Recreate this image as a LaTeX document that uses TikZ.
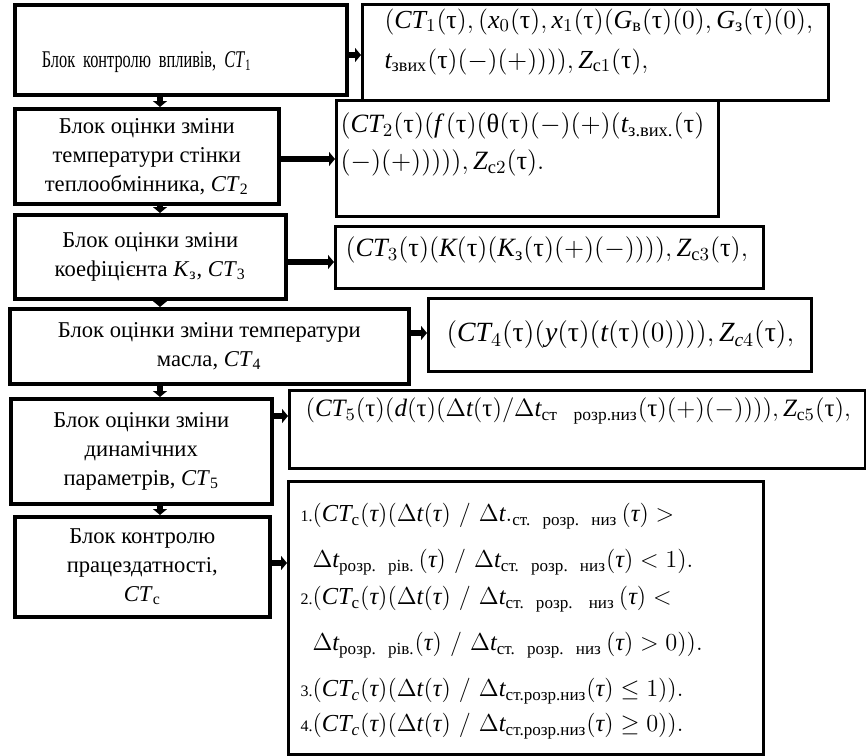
\RequirePackage{fix-cm}
\documentclass[tikz,border=0pt]{standalone}
\usepackage{amsmath}
\usepackage{fontspec}
\setmainfont{Liberation Serif}
\newfontfamily\narrowfont{Liberation Serif}[FakeStretch=0.68]
\usetikzlibrary{arrows.meta,positioning}
\newcommand{\cyr}[1]{\text{\upshape #1}}
\newcommand{\utau}{\text{\upshape τ}}
\newcommand{\itau}{\text{\itshape τ}}
\newcommand{\vl}[1]{\text{\itshape #1}}
\newcommand{\num}[1]{{\fontsize{8}{9}\selectfont #1}}
\tikzset{
  blockbox/.style={draw, line width=1.8pt, anchor=north west, align=center,
    inner sep=2pt, font=\fontsize{11.3}{14.5}\selectfont},
  exprbox/.style={draw, line width=1.5pt, anchor=north west, align=left,
    inner ysep=2pt, font=\fontsize{13}{20}\selectfont},
  flow/.style={-{Triangle[length=3pt,width=7pt]}, line width=3pt}
}

\begin{document}
\begin{tikzpicture}[x=0.5pt, y=-0.5pt]
\useasboundingbox (0,0) rectangle (866,755);
\coordinate (col) at (160,0);

% left column
\node[blockbox, align=left, inner xsep=13.5pt, text width=139pt, text height=20pt,
  minimum height=45pt, font=\fontsize{12}{14.5}\narrowfont] (b1) at (13,3)
{Блок контролю впливів, \textit{CT}\textsubscript{1}};
\node[blockbox, minimum width=132pt, minimum height=47.5pt] (b2) at (13,107)
{Блок оцінки зміни\\температури стінки\\теплообмінника, \textit{CT}\textsubscript{2}};
\node[blockbox, minimum width=135.5pt, minimum height=42pt] (b3) at (13,213)
{Блок оцінки зміни\\коефіцієнта \textit{K}\textsubscript{з}, \textit{CT}\textsubscript{3}};
\node[blockbox, minimum width=199.5pt, minimum height=37.5pt] (b4) at (8,307)
{Блок оцінки зміни температури\\масла, \textit{CT}\textsubscript{4}};
\node[blockbox, minimum width=130.5pt, minimum height=52.5pt] (b5) at (9,397)
{Блок оцінки зміни\\динамічних\\параметрів, \textit{CT}\textsubscript{5}};
\node[blockbox, minimum width=127.5pt, minimum height=50pt] (b6) at (13,515)
{Блок контролю\\працездатності,\\\textit{CT}\textsubscript{с}};

% right column
\node[exprbox, inner xsep=11pt, text width=211pt, minimum height=44.5pt, text depth=34pt,
  font=\fontsize{13}{20}\selectfont] (r1) at (361,3)
{$(\vl{CT}_1(\utau),(\vl{x}_0(\utau),\vl{x}_1(\utau)(\vl{G}_{\cyr{в}}(\utau)(0),\vl{G}_{\cyr{з}}(\utau)(0),$\\
$\vl{t}_{\cyr{звих}}(\utau)(-)(+)))),\vl{Z}_{\cyr{с}1}(\utau),$};
\node[exprbox, inner xsep=2pt, text width=187pt, minimum height=58pt, text depth=36pt,
  font=\fontsize{13.2}{18.5}\selectfont] (r2) at (335,99)
{$(\vl{CT}_2(\utau)(\vl{f}\,(\utau)(\cyr{θ}(\utau)(-)(+)(\vl{t}_{\cyr{з.вих.}}(\utau)$\\
$(-)(+))))),\vl{Z}_{\cyr{с}2}(\utau).$};
\node[exprbox, inner xsep=5pt, text width=204pt, minimum height=31pt, text depth=11pt,
  font=\fontsize{13.2}{20}\selectfont] (r3) at (334,225)
{$(\vl{CT}_3(\utau)(\vl{K}(\utau)(\vl{K}_{\cyr{з}}(\utau)(+)(-)))),\vl{Z}_{\cyr{с}3}(\utau),$};
\node[exprbox, inner xsep=9pt, text width=173.5pt, minimum height=36.5pt,
  font=\fontsize{13.9}{20}\selectfont] (r4) at (427,297)
{$(\vl{CT}_4(\utau)(\vl{y}(\utau)(\vl{t}(\utau)(0)))),\vl{Z}_{\vl{c}4}(\utau),$};
\node[exprbox, inner xsep=8pt, text width=272pt, minimum height=39pt, text depth=22pt,
  font=\fontsize{12.5}{20}\selectfont] (r5) at (288,389)
{$(\vl{CT}_5(\utau)(\vl{d}(\utau)(\Delta \vl{t}(\utau)/\Delta \vl{t}_{\cyr{ст\ \ розр.низ}}(\utau)(+)(-)))),\vl{Z}_{\cyr{с}5}(\utau),$};
\node[exprbox, inner xsep=6pt, text width=225.5pt, minimum height=136.5pt,
  font=\fontsize{12.2}{21}\selectfont] (r6) at (287,480)
{\begin{tabular}{@{}r@{}l@{}}
\num{1.} & $(\vl{CT}_{\cyr{с}}(\itau)(\Delta \vl{t}(\itau)\ /\ \Delta \vl{t}._{\cyr{ст. розр. низ}}\,(\itau)>$\\[2pt]
 & $\Delta \vl{t}_{\cyr{розр. рів.}}\,(\itau)\ /\ \Delta \vl{t}_{\cyr{ст. розр. низ}}(\itau)<1).$\\[-2.5pt]
\num{2.} & $(\vl{CT}_{\cyr{с}}(\itau)(\Delta \vl{t}(\itau)\ /\ \Delta \vl{t}_{\cyr{ст. розр.\ \ низ}}\,(\itau)<$\\[2pt]
 & $\Delta \vl{t}_{\cyr{розр. рів.}}(\itau)\ /\ \Delta \vl{t}_{\cyr{ст. розр. низ}}\,(\itau)>0)).$\\[2pt]
\num{3.} & $(\vl{CT}_{\vl{c}}(\itau)(\Delta \vl{t}(\itau)\ /\ \Delta \vl{t}_{\cyr{ст.розр.низ}}(\itau)\le 1)).$\\[-3.5pt]
\num{4.} & $(\vl{CT}_{\vl{c}}(\itau)(\Delta \vl{t}(\itau)\ /\ \Delta \vl{t}_{\cyr{ст.розр.низ}}(\itau)\ge 0)).$
\end{tabular}};

% connections
\draw[flow] (b1.south -| col) -- (b2.north -| col);
\draw[flow] (b2.south -| col) -- (b3.north -| col);
\draw[flow] (b3.south -| col) -- (b4.north -| col);
\draw[flow] (b4.south -| col) -- (b5.north -| col);
\draw[flow] (b5.south -| col) -- (b6.north -| col);

\draw[flow] (b1.east |- 0,55) -- (r1.west |- 0,55);
\draw[flow] (b2.east |- 0,159) -- (r2.west |- 0,159);
\draw[flow] (b3.east |- 0,262) -- (r3.west |- 0,262);
\draw[flow] (b4.east |- 0,333) -- (r4.west |- 0,333);
\draw[flow] (b5.east |- 0,416) -- (r5.west |- 0,416);
\draw[flow] (b6.east |- 0,563) -- (r6.west |- 0,563);
\end{tikzpicture}
\end{document}
